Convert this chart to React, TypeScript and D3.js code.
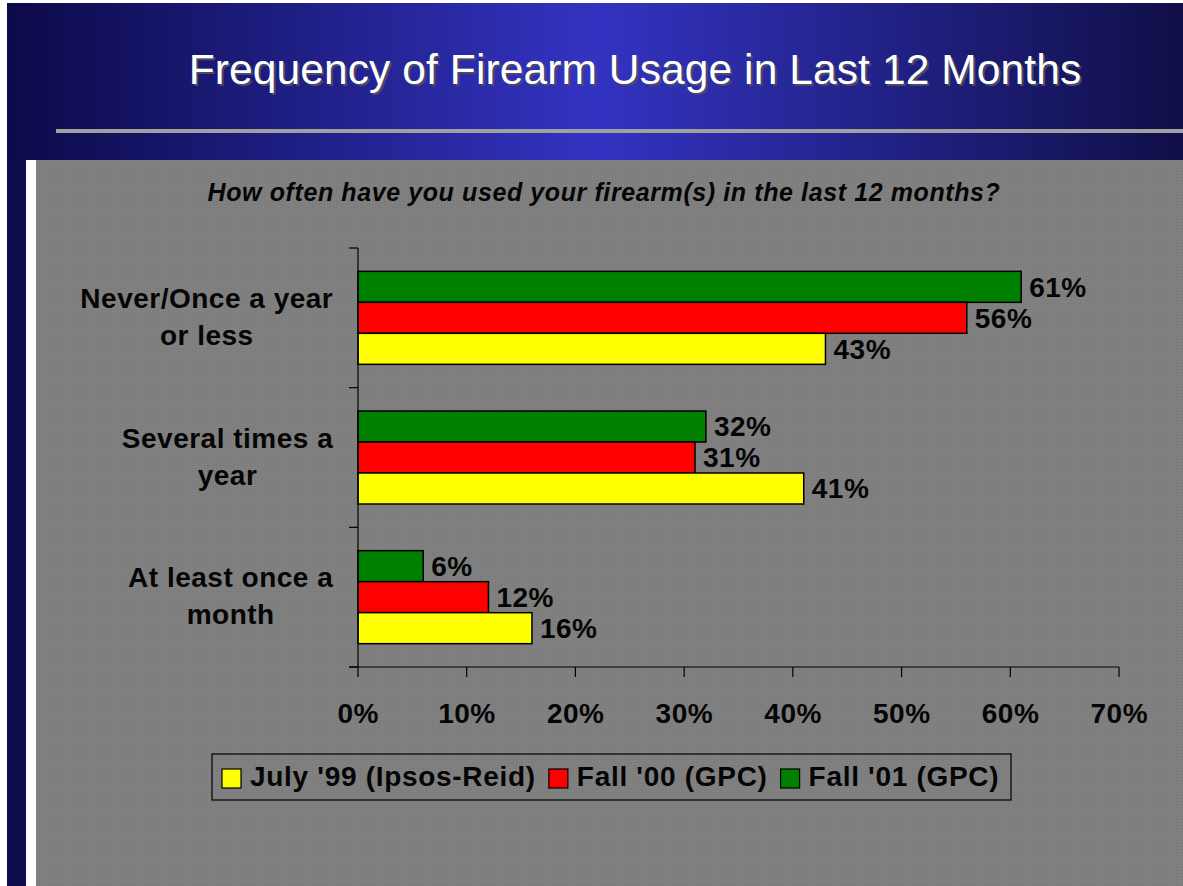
import React, { useMemo } from "react";
import * as d3 from "d3";

const categories = ["Never/Once a year|or less", "Several times a|year", "At least once a|month"];
const seriesNames = ["Fall '01 (GPC)", "Fall '00 (GPC)", "July '99 (Ipsos-Reid)"];
const seriesColors = ["#008000", "#ff0000", "#ffff00"];
const fall01 = [61, 32, 6];
const fall00 = [56, 31, 12];
const july99 = [43, 41, 16];
const xTicks = [0, 10, 20, 30, 40, 50, 60, 70];
const legendOrder = [2, 1, 0];

const title = "Frequency of Firearm Usage in Last 12 Months";
const subtitle = "How often have you used your firearm(s) in the last 12 months?";

const W = 1183;
const H = 886;
const FONT = "'Liberation Sans', Arial, sans-serif";
const LBL = 28;
const LS = 0.5;
const LEG_LS = 0.7;

function measure(text: string, font: string, ls: number): number {
  const c = document.createElement("canvas");
  const ctx = c.getContext("2d");
  if (!ctx) return text.length * 15;
  ctx.font = font;
  return ctx.measureText(text).width + ls * text.length;
}

export default function App() {
  const values = [fall01, fall00, july99];
  const x = d3.scaleLinear().domain([0, 70]).range([358, 1119]);
  const y = d3.scaleBand<string>().domain(categories).range([248, 667]).paddingInner(0).paddingOuter(0);
  const sub = d3
    .scaleBand<string>()
    .domain(seriesNames)
    .range([0, y.bandwidth()])
    .paddingInner(0)
    .paddingOuter(0.753);

  const labelFont = `bold ${LBL}px 'Liberation Sans'`;
  const catWidths = useMemo(
    () => categories.map((c) => Math.max(...c.split("|").map((l) => measure(l, labelFont, LS)))),
    []
  );

  const legendItems = useMemo(() => {
    let cx = 222;
    return legendOrder.map((si) => {
      const w = measure(seriesNames[si], labelFont, LEG_LS);
      const item = { si, sx: cx, tx: cx + 28 };
      cx = cx + 28 + w + 13;
      return item;
    });
  }, []);

  const boundaries = [...categories.map((c) => y(c) as number), 667];
  const txt = { fontSize: LBL, fontWeight: "bold" as const, fill: "#050505", letterSpacing: LS };

  return (
    <svg width={W} height={H} style={{ position: "absolute", left: 0, top: 0 }} fontFamily={FONT}>
      <defs>
        <linearGradient id="hdr" x1="0" x2="1" y1="0" y2="0">
          <stop offset="0" stopColor="#0c0a48" />
          <stop offset="0.5" stopColor="#3333c2" />
          <stop offset="1" stopColor="#100f48" />
        </linearGradient>
        <pattern id="tex" width="3" height="3" patternUnits="userSpaceOnUse">
          <rect width="3" height="3" fill="#808080" />
          <rect width="1" height="1" fill="#787878" />
        </pattern>
      </defs>
      <rect x={0} y={0} width={W} height={H} fill="#ffffff" />
      <rect x={7} y={3} width={W - 7} height={157} fill="url(#hdr)" />
      <rect x={7} y={160} width={19} height={H - 160} fill="#0e0c4a" />
      <rect x={36} y={160} width={W - 36} height={H - 160} fill="url(#tex)" />
      <rect x={56} y={129} width={W - 56} height={4} fill="#a0a0a0" />

      <text x={637} y={86} textAnchor="middle" fontSize={42.5} letterSpacing={0.1} fill="#4a4a66">
        {title}
      </text>
      <text x={635} y={84} textAnchor="middle" fontSize={42.5} letterSpacing={0.1} fill="#ffffff">
        {title}
      </text>

      <text
        x={604}
        y={201}
        textAnchor="middle"
        fontSize={25}
        fontWeight="bold"
        fontStyle="italic"
        letterSpacing={0.6}
        fill="#050505"
      >
        {subtitle}
      </text>

      {/* bars */}
      {categories.map((c, ci) => (
        <g key={c} transform={`translate(0,${y(c)})`}>
          {seriesNames.map((s, si) => {
            const v = values[si][ci];
            const by = sub(s) as number;
            return (
              <g key={s}>
                <rect
                  x={x(0)}
                  y={by}
                  width={x(v) - x(0)}
                  height={sub.bandwidth()}
                  fill={seriesColors[si]}
                  stroke="#000"
                  strokeWidth={1.5}
                />
                <text x={x(v) + 8} y={by + sub.bandwidth() / 2 + 10} {...txt}>
                  {v}%
                </text>
              </g>
            );
          })}
        </g>
      ))}

      {/* y axis */}
      <line x1={x(0)} x2={x(0)} y1={248} y2={667} stroke="#000" strokeWidth={1.2} />
      {boundaries.map((b, i) => (
        <line key={i} x1={x(0) - 9} x2={x(0)} y1={b} y2={b} stroke="#000" strokeWidth={1.2} />
      ))}
      {/* x axis */}
      <line x1={x(0) - 9} x2={x(70)} y1={667} y2={667} stroke="#000" strokeWidth={1.2} />
      {xTicks.map((t) => (
        <g key={t}>
          <line x1={x(t)} x2={x(t)} y1={667} y2={677} stroke="#000" strokeWidth={1.2} />
          <text x={x(t) + LS / 2} y={723} textAnchor="middle" {...txt}>
            {t}%
          </text>
        </g>
      ))}

      {/* category labels */}
      {categories.map((c, ci) => {
        const cy = (y(c) as number) + y.bandwidth() / 2;
        const cx = 333 - catWidths[ci] / 2 + LS / 2;
        return (
          <text key={c} textAnchor="middle" {...txt}>
            {c.split("|").map((l, li) => (
              <tspan key={li} x={cx} y={cy - 10 + li * 37}>
                {l}
              </tspan>
            ))}
          </text>
        );
      })}

      {/* legend */}
      <rect x={212} y={754} width={799} height={46} fill="none" stroke="#000" strokeWidth={1.2} />
      {legendItems.map((it) => (
        <g key={it.si}>
          <rect x={it.sx} y={769} width={19} height={19} fill={seriesColors[it.si]} stroke="#000" strokeWidth={1.2} />
          <text x={it.tx} y={786} {...txt} letterSpacing={LEG_LS}>
            {seriesNames[it.si]}
          </text>
        </g>
      ))}
    </svg>
  );
}
